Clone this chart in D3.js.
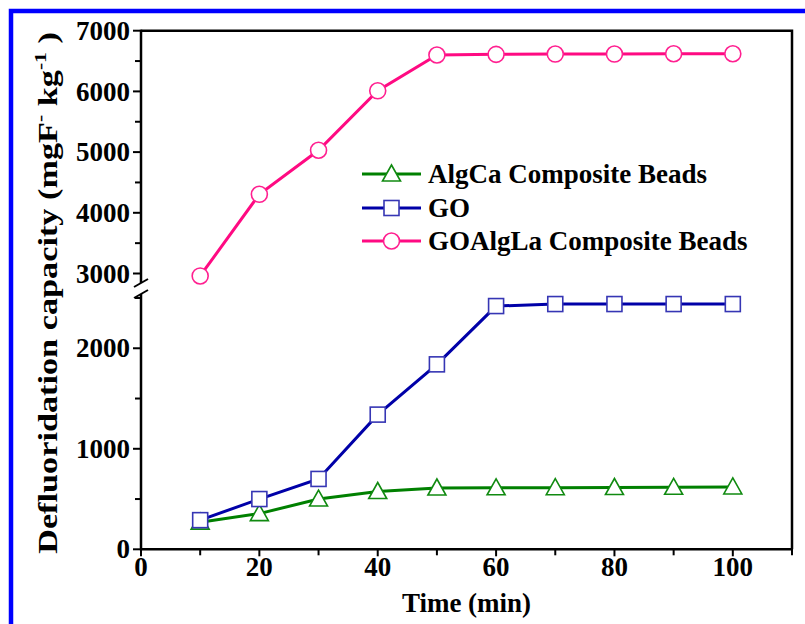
<!DOCTYPE html>
<html>
<head>
<meta charset="utf-8">
<script src="https://cdn.jsdelivr.net/npm/d3@7"></script>
<style>
  html, body { margin: 0; padding: 0; background: #fff; }
  svg { display: block; }
  text { font-family: "Liberation Serif", "Times New Roman", serif; font-weight: bold; fill: #000; }
</style>
</head>
<body>
<svg id="chart" width="805" height="624"></svg>
<script>
// Time points (min)
const times = [10, 20, 30, 40, 50, 60, 70, 80, 90, 100];

// Defluoridation capacity (mgF- kg-1) per adsorbent
const algCa   = [270, 355, 500, 575, 610, 612, 613, 615, 617, 620];
const go      = [290, 500, 700, 1340, 1840, 2420, 2440, 2440, 2440, 2440];
const goAlgLa = [2960, 4305, 5030, 6010, 6600, 6610, 6615, 6615, 6620, 6620];

const seriesNames = ["AlgCa Composite Beads", "GO", "GOAlgLa Composite Beads"];

// Tick values
const xTicks = [0, 20, 40, 60, 80, 100];
const xMinorTicks = [10, 30, 50, 70, 90, 110];
const yLowTicks = [0, 1000, 2000];
const yLowMinor = [500, 1500, 2500];
const yHighTicks = [3000, 4000, 5000, 6000, 7000];
const yHighMinor = [3500, 4500, 5500, 6500];

const svg = d3.select("#chart");

// Outer frame
svg.append("rect")
  .attr("x", 11).attr("y", 11)
  .attr("width", 820).attr("height", 640)
  .attr("fill", "none").attr("stroke", "#0000ff").attr("stroke-width", 4.5);

const plotLeft = 141, plotRight = 792, plotTop = 30.7, plotBottom = 549.3;
const breakHigh = 283, breakLow = 294;
const fs = 27;

const x = d3.scaleLinear().domain([0, 110]).range([plotLeft, plotRight]);
// Two y segments around the axis break
const yLow = d3.scaleLinear().domain([0, 2530]).range([plotBottom, 295]);
const yHigh = d3.scaleLinear().domain([2860, 7000]).range([282, plotTop]);

const axisColor = "#000";
const axisW = 2.5;

// Top and right frame lines
svg.append("path")
  .attr("d", `M${plotLeft},${plotTop}H${plotRight}V${plotBottom}`)
  .attr("fill", "none").attr("stroke", axisColor).attr("stroke-width", axisW);

// Bottom axis
const xAxis = svg.append("g").attr("transform", `translate(0,${plotBottom})`);
xAxis.append("line").attr("x1", plotLeft - 1).attr("x2", plotRight + 1)
  .attr("stroke", axisColor).attr("stroke-width", axisW);
xAxis.selectAll(".xmaj").data(xTicks).join("line")
  .attr("x1", d => x(d)).attr("x2", d => x(d)).attr("y1", 0).attr("y2", 7)
  .attr("stroke", axisColor).attr("stroke-width", 2);
xAxis.selectAll(".xmin").data(xMinorTicks).join("line")
  .attr("x1", d => x(d)).attr("x2", d => x(d)).attr("y1", 0).attr("y2", 6)
  .attr("stroke", axisColor).attr("stroke-width", 2);
xAxis.selectAll(".xlab").data(xTicks).join("text")
  .attr("x", d => x(d)).attr("y", 27)
  .attr("text-anchor", "middle").attr("font-size", fs)
  .text(d => d);

// Left axis: upper segment
const yAxis = svg.append("g");
yAxis.append("line").attr("x1", plotLeft).attr("x2", plotLeft)
  .attr("y1", plotTop - 1).attr("y2", breakHigh)
  .attr("stroke", axisColor).attr("stroke-width", axisW);
yAxis.append("line").attr("x1", plotLeft).attr("x2", plotLeft)
  .attr("y1", breakLow).attr("y2", plotBottom + 1)
  .attr("stroke", axisColor).attr("stroke-width", axisW);

// Break marks
[breakHigh, breakLow].forEach(yb => {
  yAxis.append("line")
    .attr("x1", plotLeft - 7).attr("y1", yb + 4)
    .attr("x2", plotLeft + 7).attr("y2", yb - 4)
    .attr("stroke", axisColor).attr("stroke-width", 2);
});

function yTicks(scale, major, minor) {
  yAxis.append("g").selectAll("line").data(major).join("line")
    .attr("x1", plotLeft - 8).attr("x2", plotLeft)
    .attr("y1", d => scale(d)).attr("y2", d => scale(d))
    .attr("stroke", axisColor).attr("stroke-width", 2);
  yAxis.append("g").selectAll("line").data(minor).join("line")
    .attr("x1", plotLeft - 6).attr("x2", plotLeft)
    .attr("y1", d => scale(d)).attr("y2", d => scale(d))
    .attr("stroke", axisColor).attr("stroke-width", 2);
  yAxis.append("g").selectAll("text").data(major).join("text")
    .attr("x", plotLeft - 11).attr("y", d => scale(d))
    .attr("dy", "0.34em")
    .attr("text-anchor", "end").attr("font-size", fs)
    .text(d => d);
}
yTicks(yHigh, yHighTicks, yHighMinor);
yTicks(yLow, yLowTicks, yLowMinor);

// Axis titles
svg.append("text")
  .attr("x", (plotLeft + plotRight) / 2).attr("y", 612)
  .attr("text-anchor", "middle").attr("font-size", fs)
  .text("Time (min)");

const yTitle = svg.append("text")
  .attr("text-anchor", "middle").attr("font-size", fs);
yTitle.append("tspan").text("Defluoridation capacity (mgF");
yTitle.append("tspan").attr("font-size", 17).attr("dy", -11).text("-");
yTitle.append("tspan").attr("dy", 11).text(" kg");
yTitle.append("tspan").attr("font-size", 17).attr("dy", -11).text("-1");
yTitle.append("tspan").attr("dy", 11).text(" )");
// Stretch the rotated title along its length to span the axis
const titleLen = yTitle.node().getBBox().width;
const stretch = 522 / titleLen;
yTitle.attr("transform", `translate(57,293) rotate(-90) scale(${stretch},1)`);

// Series definitions
const styles = [
  { name: seriesNames[0], values: algCa,   scale: yLow,  line: "#008000", mark: "#108a10", symbol: "triangle" },
  { name: seriesNames[1], values: go,      scale: yLow,  line: "#0000a8", mark: "#3636b4", symbol: "square" },
  { name: seriesNames[2], values: goAlgLa, scale: yHigh, line: "#ff0a82", mark: "#ff2090", symbol: "circle" }
];

function marker(g, type, cx, cy, color) {
  if (type === "circle") {
    g.append("circle").attr("cx", cx).attr("cy", cy).attr("r", 8)
      .attr("fill", "#fff").attr("stroke", color).attr("stroke-width", 1.6);
  } else if (type === "square") {
    g.append("rect").attr("x", cx - 7.5).attr("y", cy - 7.5)
      .attr("width", 15).attr("height", 15)
      .attr("fill", "#fff").attr("stroke", color).attr("stroke-width", 1.6);
  } else {
    g.append("path")
      .attr("d", `M${cx},${cy - 9}L${cx + 9},${cy + 7}L${cx - 9},${cy + 7}Z`)
      .attr("fill", "#fff").attr("stroke", color).attr("stroke-width", 1.6);
  }
}

const plot = svg.append("g");
styles.forEach(s => {
  const pts = times.map((t, i) => [x(t), s.scale(s.values[i])]);
  plot.append("path")
    .attr("d", d3.line()(pts))
    .attr("fill", "none").attr("stroke", s.line).attr("stroke-width", 3);
  const mg = plot.append("g");
  pts.forEach(p => marker(mg, s.symbol, p[0], p[1], s.mark));
});

// Legend
const legend = svg.append("g");
const legendRows = [174, 208, 241];
styles.forEach((s, i) => {
  const yy = legendRows[i];
  legend.append("line").attr("x1", 362).attr("x2", 421)
    .attr("y1", yy).attr("y2", yy)
    .attr("stroke", s.line).attr("stroke-width", 3);
  marker(legend, s.symbol, 391.5, yy, s.mark);
  legend.append("text").attr("x", 428).attr("y", yy).attr("dy", "0.34em")
    .attr("font-size", fs).text(s.name);
});
</script>
</body>
</html>
